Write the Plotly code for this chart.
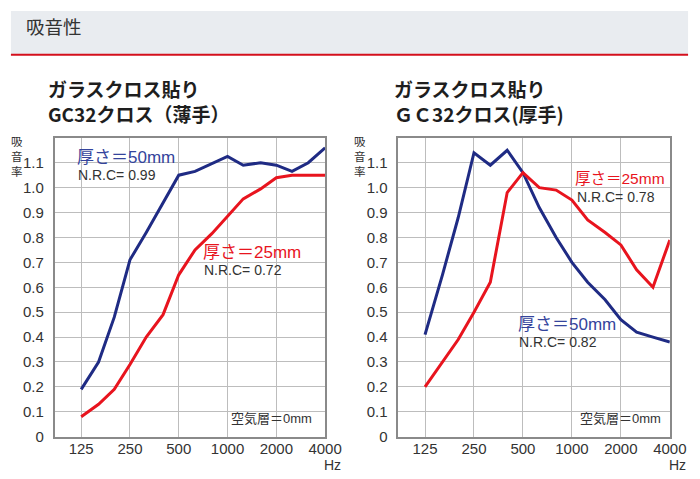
import math
import plotly.graph_objects as go

W, H = 700, 479

# 1/3 octave band centres (Hz)
freqs = [125, 160, 200, 250, 315, 400, 500, 630, 800, 1000, 1250, 1600, 2000, 2500, 3150, 4000]

# GC32 cloth (thin)
thin_50mm = [0.19, 0.30, 0.48, 0.71, 0.82, 0.94, 1.05, 1.065, 1.095, 1.125, 1.09, 1.10, 1.09, 1.065, 1.10, 1.16]
thin_25mm = [0.08, 0.13, 0.19, 0.29, 0.40, 0.49, 0.65, 0.75, 0.815, 0.885, 0.955, 0.995, 1.04, 1.05, 1.05, 1.05]

# GC32 cloth (thick)
thick_50mm = [0.41, 0.65, 0.88, 1.14, 1.09, 1.15, 1.06, 0.92, 0.80, 0.70, 0.62, 0.55, 0.47, 0.42, 0.40, 0.38]
thick_25mm = [0.20, 0.30, 0.39, 0.50, 0.62, 0.98, 1.06, 1.00, 0.99, 0.95, 0.87, 0.82, 0.77, 0.67, 0.60, 0.79]

x_ticks = [125, 250, 500, 1000, 2000, 4000]
y_ticks = [0, 0.1, 0.2, 0.3, 0.4, 0.5, 0.6, 0.7, 0.8, 0.9, 1.0, 1.1]
y_labels = ['0', '0.1', '0.2', '0.3', '0.4', '0.5', '0.6', '0.7', '0.8', '0.9', '1.0', '1.1']

NAVY = '#1f2b84'
RED = '#e8141e'
BLUE_TXT = '#34449c'
GREY_TXT = '#333333'
LATIN = 'Liberation Sans, Arial, Noto Sans CJK JP, sans-serif'
CJK = 'Noto Sans CJK JP, sans-serif'


def px(x):
    return x / W


def py(y):
    return 1 - y / H


fig = go.Figure()
fig.add_trace(go.Scatter(x=freqs, y=thin_50mm, mode='lines', line=dict(color=NAVY, width=3), xaxis='x', yaxis='y'))
fig.add_trace(go.Scatter(x=freqs, y=thin_25mm, mode='lines', line=dict(color=RED, width=3), xaxis='x', yaxis='y'))
fig.add_trace(go.Scatter(x=freqs, y=thick_50mm, mode='lines', line=dict(color=NAVY, width=3), xaxis='x2', yaxis='y2'))
fig.add_trace(go.Scatter(x=freqs, y=thick_25mm, mode='lines', line=dict(color=RED, width=3), xaxis='x2', yaxis='y2'))

xaxis_style = dict(
    type='log',
    range=[math.log10(85.6), math.log10(4000)],
    tickvals=x_ticks,
    ticktext=[str(t) for t in x_ticks],
    showgrid=True, gridcolor='#bdbdbd', gridwidth=1,
    showline=True, mirror=True, linecolor='#8a8a8a', linewidth=1.5,
    zeroline=False, ticks='', ticklabelstandoff=-2,
    tickfont=dict(family=LATIN, size=15, color=GREY_TXT),
)
yaxis_style = dict(
    range=[0, 1.2],
    tickvals=y_ticks,
    ticktext=y_labels,
    showgrid=True, gridcolor='#bdbdbd', gridwidth=1,
    showline=True, mirror=True, linecolor='#8a8a8a', linewidth=1.5,
    zeroline=False, ticks='', ticklabelstandoff=6,
    tickfont=dict(family=LATIN, size=15, color=GREY_TXT),
)

fig.update_layout(
    width=W, height=H,
    margin=dict(l=0, r=0, t=0, b=0),
    paper_bgcolor='white', plot_bgcolor='white',
    showlegend=False,
    xaxis=dict(xaxis_style, domain=[px(47.7), px(325)], anchor='y'),
    yaxis=dict(yaxis_style, domain=[py(436), py(132)], anchor='x'),
    xaxis2=dict(xaxis_style, domain=[px(400), px(678.3)], anchor='y2'),
    yaxis2=dict(yaxis_style, domain=[py(436), py(132)], anchor='x2'),
)

# header band
fig.add_shape(type='rect', xref='paper', yref='paper', x0=px(3), x1=px(697), y0=py(47), y1=py(3),
              fillcolor='#e9ecf0', line=dict(width=0), layer='below')
fig.add_shape(type='line', xref='paper', yref='paper', x0=px(3), x1=px(697), y0=py(47.5), y1=py(47.5),
              line=dict(color='#d40f1c', width=2))

annotations = []


def label(text, x, y, size, color=GREY_TXT, family=LATIN, xanchor='left', align='left'):
    annotations.append(dict(text=text, x=px(x), y=py(y), xref='paper', yref='paper',
                            xanchor=xanchor, yanchor='middle', showarrow=False, align=align,
                            font=dict(family=family, size=size, color=color)))


label('吸音性', 16, 18, 18.5, color='#333333', family=CJK)

# panel titles
label('<b>ガラスクロス貼り</b><br><b>GC32クロス（薄手）</b>', 39, 95, 19, color='#1e1e1e', family=CJK)
label('<b>ガラスクロス貼り</b><br><b>ＧＣ32クロス(厚手)</b>', 394, 95, 19, color='#1e1e1e', family=CJK)

# y-axis title, stacked vertically
label('吸<br>音<br>率', 9, 151, 11.5, family=CJK, xanchor='center', align='center')
label('吸<br>音<br>率', 361, 151, 11.5, family=CJK, xanchor='center', align='center')

# units
label('Hz', 333, 465, 14, xanchor='center')
label('Hz', 686, 465, 14, xanchor='center')

# series labels
label('厚さ＝50mm', 69, 152, 17, color=BLUE_TXT)
label('N.R.C= 0.99', 70, 170, 14)
label('厚さ＝25mm', 198, 249, 17, color=RED)
label('N.R.C= 0.72', 199, 266, 14)
label('空気層＝0mm', 227, 417, 13)

label('厚さ＝25mm', 579, 173, 15.5, color=RED)
label('N.R.C= 0.78', 581, 192, 14)
label('厚さ＝50mm', 521, 322, 17, color=BLUE_TXT)
label('N.R.C= 0.82', 522, 340, 14)
label('空気層＝0mm', 584, 417, 13)

fig.update_layout(annotations=annotations)

fig.write_html("out.html")
